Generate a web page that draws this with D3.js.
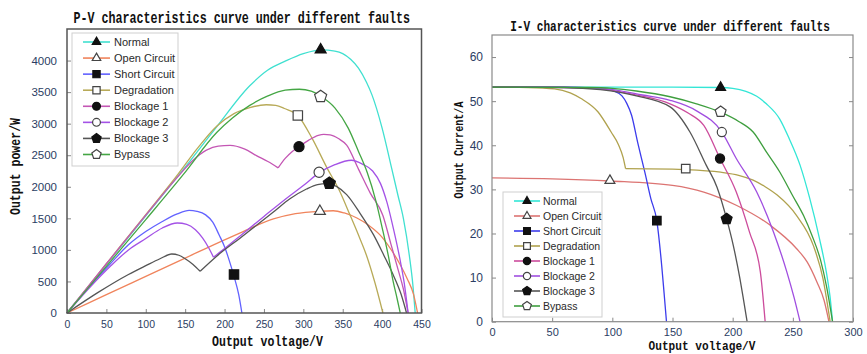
<!DOCTYPE html>
<html>
<head>
<meta charset="utf-8">
<script src="https://cdn.jsdelivr.net/npm/d3@7"></script>
<style>
  body { margin: 0; background: #fff; }
  svg { display: block; }
</style>
</head>
<body>
<svg id="chart" width="867" height="354"></svg>
<script>
const SERIES = ["Normal", "Open Circuit", "Short Circuit", "Degradation", "Blockage 1", "Blockage 2", "Blockage 3", "Bypass"];

// P-V curves, [voltage V, power W]
const pvNormal = [[0,0],[50,770],[100,1540],[150,2310],[190,2950],[232,3600],[255,3850],[277,3990],[300,4110],[323,4170],[340,4150],[350,4110],[360,4020],[370,3880],[380,3660],[387,3460],[400,2930],[412,2300],[420,1870],[427,1500],[435,870],[439,450],[442,0]];
const pvOpen = [[0,0],[50,290],[100,580],[150,870],[200,1160],[220,1270],[262,1490],[290,1575],[321,1612],[338,1620],[352,1585],[368,1506],[383,1390],[397,1241],[410,1030],[423,765],[432,540],[440,290],[445,0]];
const pvShort = [[0,0],[30,440],[55,780],[78,1080],[100,1290],[121,1450],[140,1570],[155,1625],[165,1610],[176,1555],[185,1440],[193,1240],[200,1050],[205,870],[212,580],[218,290],[222,0]];
const pvDegr = [[0,0],[50,780],[100,1560],[141,2200],[165,2600],[190,2960],[212,3160],[232,3255],[253,3300],[265,3290],[276,3240],[293,3130],[311,2770],[330,2300],[345,1960],[359,1560],[370,1235],[380,920],[391,475],[401,0]];
const pvBlock1 = [[0,0],[50,780],[100,1550],[140,2150],[160,2420],[177,2580],[192,2645],[207,2655],[225,2600],[241,2490],[255,2400],[268,2300],[277,2450],[286,2560],[295,2640],[307,2740],[319,2815],[326,2830],[334,2822],[345,2760],[355,2660],[370,2280],[385,1900],[401,1545],[411,1100],[420,700],[427,380],[433,0]];
const pvBlock2 = [[0,0],[30,420],[55,740],[78,1000],[100,1180],[121,1347],[140,1426],[152,1405],[163,1320],[172,1190],[180,1030],[186,883],[200,1020],[222,1245],[250,1530],[280,1830],[300,2020],[320,2220],[340,2350],[361,2420],[375,2360],[388,2250],[398,2050],[406,1760],[415,1300],[423,830],[428,480],[433,0]];
const pvBlock3 = [[0,0],[40,330],[78,610],[100,750],[118,860],[133,935],[142,915],[150,860],[160,770],[169,661],[190,900],[220,1190],[262,1600],[283,1810],[304,1965],[318,2035],[330,2050],[342,2007],[355,1875],[372,1580],[389,1241],[402,920],[414,607],[424,300],[431,0]];
const pvBypass = [[0,0],[50,740],[100,1480],[148,2200],[190,2860],[210,3090],[232,3290],[255,3440],[277,3530],[295,3545],[310,3515],[322,3435],[340,3250],[357,2930],[370,2560],[381,2230],[392,1780],[401,1300],[408,900],[414,500],[419,230],[423,0]];
const pvCusps = [null, null, null, null, 268, 186, 169, null];
const pvMarkers = [[322,4170],[321,1612],[212,610],[293,3130],[294.5,2636],[320,2230],[333,2055],[322,3430]];

// I-V curves, [voltage V, current A]
const ivNormal = [[0,53.2],[100,53.2],[150,53.2],[190,53.1],[200,52.9],[211,52.2],[220,51.1],[228,49.4],[239,46],[247,41.5],[256,35.5],[264,28],[272,19],[278,11],[281,5.5],[283,0]];
const ivOpen = [[0,32.6],[50,32.4],[98,31.9],[150,30.9],[176,29.4],[203,26.4],[231,21.9],[253,16.6],[262,13.5],[270,9],[276,4.8],[280,0]];
const ivShort = [[0,53.2],[60,53.2],[94,52.8],[101,52.3],[108,51.2],[112,49.5],[116,46.8],[121,40.7],[127,33.9],[132,27.9],[137,22.8],[141,12.8],[143,6.5],[145,0]];
const ivDegr = [[0,53.2],[30,53.1],[52,52.8],[65,51.9],[74,50.6],[88,47.6],[99,43],[105,40.2],[109,37.2],[111,34.7],[150,34.6],[161,34.5],[190,33.9],[205,33.2],[217,32.1],[227,30.6],[237,28.7],[253,24.1],[267,17.3],[275,9.8],[281,0]];
const ivBlock1 = [[0,53.2],[60,53.1],[90,52.8],[120,51.4],[148,49.4],[163,47.3],[176,44.5],[189.5,37],[203,29.4],[214,20.3],[223,11.3],[227,0]];
const ivBlock2 = [[0,53.2],[70,53.1],[100,52.6],[125,51.4],[148,50.2],[170,47.8],[191,43],[203,37],[220,29.4],[234,20.3],[245,11.3],[251,5.5],[256,0]];
const ivBlock3 = [[0,53.2],[60,53.1],[90,52.6],[120,51.2],[148,48.7],[164.5,43],[178,35.5],[187,30.5],[195,23.3],[200.5,17.3],[206,9.8],[209,5],[212,0]];
const ivBypass = [[0,53.2],[80,53.1],[100,52.9],[120,52.3],[148,51],[170,49.4],[190,47.5],[205,45.4],[217,43],[228,38.5],[239,34],[250,28.5],[259,24],[266,19.5],[273,14],[278,8],[283,0]];
const ivCusps = [null, null, null, 111, null, null, null, null];
const ivMarkers = [[190,53.1],[98,32],[137,22.9],[161,34.7],[189.5,37],[191,43],[195,23.3],[190,47.6]];

const pvXTicks = [0,50,100,150,200,250,300,350,400,450];
const pvYTicks = [0,500,1000,1500,2000,2500,3000,3500,4000];
const ivXTicks = [0,50,100,150,200,250,300];
const ivYTicks = [0,10,20,30,40,50,60];

const pvColors = ["#40e0d0","#f0845c","#6262ff","#b8aa58","#c456b4","#a452e6","#555555","#44a644"];
const ivColors = ["#33e6d6","#dc7472","#3c3cec","#b0a24e","#cc4c9c","#a04ee0","#555555","#3e9e3e"];

// pentagon marker, d3.symbol style (size = area)
const symbolPentagon = {
  draw(ctx, size) {
    const r = Math.sqrt(size / (2.5 * Math.sin(2 * Math.PI / 5)));
    for (let k = 0; k < 5; k++) {
      const a = -Math.PI / 2 + k * 2 * Math.PI / 5;
      if (k) ctx.lineTo(r * Math.cos(a), r * Math.sin(a));
      else ctx.moveTo(r * Math.cos(a), r * Math.sin(a));
    }
    ctx.closePath();
  }
};
const shapes = [d3.symbolTriangle, d3.symbolTriangle, d3.symbolSquare, d3.symbolSquare,
  d3.symbolCircle, d3.symbolCircle, symbolPentagon, symbolPentagon];
const filled = [true, false, true, false, true, false, true, false];
const baseArea = [52, 52, 88, 88, 80, 80, 95, 95];

const TICK_FONT = "'Liberation Sans', Arial, sans-serif";
const TITLE_FONT = "'Liberation Mono', 'Courier New', monospace";
const TICK_COLOR = "#2b3d63";

const svg = d3.select("#chart");

function splitAt(points, cusp) {
  if (cusp == null) return [points];
  const i = points.findIndex(p => p[0] === cusp);
  return [points.slice(0, i + 1), points.slice(i)];
}

function marker(g, i, cx, cy, scale) {
  g.append("path")
    .attr("transform", `translate(${cx},${cy})`)
    .attr("d", d3.symbol().type(shapes[i]).size(baseArea[i] * scale)())
    .attr("fill", filled[i] ? "#111" : "#fff")
    .attr("stroke", filled[i] ? "#111" : "#444")
    .attr("stroke-width", 1.2);
}

// narrow bold monospace label, squeezed horizontally to the measured width
function label(text, x, y, size, width, rotate) {
  const t = svg.append("text")
    .attr("text-anchor", "middle")
    .attr("font-family", TITLE_FONT)
    .attr("font-weight", "bold")
    .attr("font-size", size)
    .attr("fill", "#111")
    .text(text);
  const k = width / t.node().getComputedTextLength();
  t.attr("transform", `translate(${x},${y})${rotate ? " rotate(-90)" : ""} scale(${k},1)`);
}

function drawPanel(cfg) {
  const { x, y } = cfg;
  const g = svg.append("g");
  const [x0, x1] = x.range();
  const [y0, y1] = y.range();
  const fmt = d3.format("d");

  // axes with inward ticks
  const ax = g.append("g").attr("transform", `translate(0,${y0})`)
    .call(d3.axisBottom(x).tickValues(cfg.xTicks).tickFormat(fmt).tickSize(-4).tickPadding(cfg.xPad));
  const ay = g.append("g").attr("transform", `translate(${x0},0)`)
    .call(d3.axisLeft(y).tickValues(cfg.yTicks).tickFormat(fmt).tickSize(-4).tickPadding(cfg.yPad));
  if (cfg.mirror) {
    g.append("g").attr("transform", `translate(${x1},0)`)
      .call(d3.axisRight(y).tickValues(cfg.yTicks).tickSize(-4).tickFormat(""))
      .call(a => a.select(".domain").remove())
      .selectAll("line").attr("stroke", "#888");
  }
  [ax, ay].forEach((a, k) => {
    a.select(".domain").remove();
    a.selectAll("line").attr("stroke", "#888");
    a.selectAll("text").attr("fill", TICK_COLOR).attr("font-family", TICK_FONT)
      .attr("font-size", k ? cfg.yFont : cfg.xFont);
  });

  // curves
  const line = d3.line().x(d => x(d[0])).y(d => y(d[1])).curve(d3.curveMonotoneX);
  cfg.series.forEach((pts, i) => {
    splitAt(pts, cfg.cusps[i]).forEach(seg => {
      g.append("path").attr("d", line(seg))
        .attr("fill", "none").attr("stroke", cfg.colors[i])
        .attr("stroke-width", 1.3).attr("stroke-linejoin", "round");
    });
  });

  // frame
  g.append("rect").attr("x", x0).attr("y", y1).attr("width", x1 - x0).attr("height", y0 - y1)
    .attr("fill", "none").attr("stroke", cfg.frame).attr("stroke-width", cfg.frameWidth);

  // markers
  cfg.markers.forEach((m, i) => marker(g, i, x(m[0]), y(m[1]), cfg.markerScale));

  // legend
  const L = cfg.legend;
  const lg = g.append("g");
  lg.append("rect").attr("x", L.x).attr("y", L.y).attr("width", L.w).attr("height", L.h)
    .attr("fill", "#fff").attr("stroke", "#cfcfcf").attr("stroke-width", 1);
  SERIES.forEach((name, i) => {
    const ry = L.row0 + i * L.step;
    lg.append("line").attr("x1", L.lx0).attr("x2", L.lx1).attr("y1", ry).attr("y2", ry)
      .attr("stroke", cfg.colors[i]).attr("stroke-width", 1.6);
    marker(lg, i, (L.lx0 + L.lx1) / 2, ry, L.markerScale);
    lg.append("text").attr("x", L.tx).attr("y", ry).attr("dy", "0.35em")
      .attr("font-family", TICK_FONT).attr("font-size", L.font).attr("fill", "#2a2a2a")
      .text(name);
  });
}

drawPanel({
  x: d3.scaleLinear([0, 450], [67, 421.5]),
  y: d3.scaleLinear([0, 4500], [313, 29]),
  xTicks: pvXTicks, yTicks: pvYTicks, xPad: 8, yPad: 10, xFont: 10.5, yFont: 11.5,
  series: [pvNormal, pvOpen, pvShort, pvDegr, pvBlock1, pvBlock2, pvBlock3, pvBypass],
  cusps: pvCusps, markers: pvMarkers, colors: pvColors,
  frame: "#555", frameWidth: 1.5, markerScale: 1, mirror: false,
  legend: { x: 72, y: 33, w: 106, h: 133, row0: 42, step: 16.07, lx0: 83, lx1: 110, tx: 114,
    font: 11, markerScale: 0.6 }
});

drawPanel({
  x: d3.scaleLinear([0, 300], [492, 853]),
  y: d3.scaleLinear([0, 65], [321.7, 35]),
  xTicks: ivXTicks, yTicks: ivYTicks, xPad: 6.5, yPad: 9, xFont: 11, yFont: 12,
  series: [ivNormal, ivOpen, ivShort, ivDegr, ivBlock1, ivBlock2, ivBlock3, ivBypass],
  cusps: ivCusps, markers: ivMarkers, colors: ivColors,
  frame: "#8a8a8a", frameWidth: 1.2, markerScale: 0.82, mirror: true,
  legend: { x: 503, y: 192, w: 99, h: 125, row0: 201, step: 15.0, lx0: 514, lx1: 540, tx: 543,
    font: 10.5, markerScale: 0.52 }
});

label("P-V characteristics curve under different faults", 241.7, 23, 16, 337);
label("I-V characteristics curve under different faults", 670, 30.5, 15, 320);
label("Output voltage/V", 267.5, 345.5, 14, 111);
label("Output voltage/V", 702, 349.5, 13, 107);
label("Output power/W", 20, 166.5, 14, 97, true);
label("Output Current/A", 463, 150, 13.5, 97, true);
</script>
</body>
</html>
